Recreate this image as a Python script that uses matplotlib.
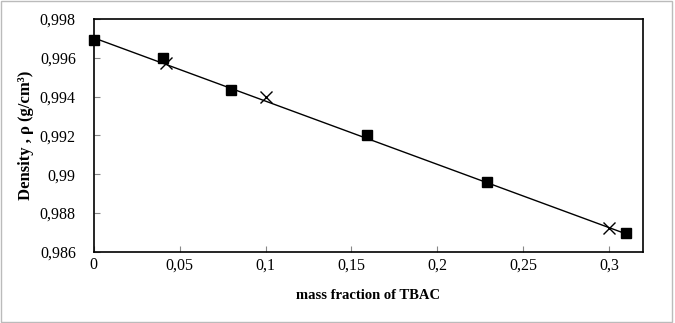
import matplotlib.pyplot as plt
from matplotlib.patches import Rectangle

# measured points (squares)
x_sq = [0.0, 0.04, 0.08, 0.159, 0.229, 0.31]
y_sq = [0.9969, 0.9960, 0.99433, 0.9920, 0.98960, 0.9870]

# literature points (crosses)
x_cr = [0.042, 0.10, 0.30]
y_cr = [0.99573, 0.9940, 0.98723]

# linear fit line
x_fit = [0.0, 0.31]
y_fit = [0.99703, 0.98693]

x_ticks = [0, 0.05, 0.1, 0.15, 0.2, 0.25, 0.3]
x_labels = ['0', '0,05', '0,1', '0,15', '0,2', '0,25', '0,3']
y_ticks = [0.986, 0.988, 0.99, 0.992, 0.994, 0.996, 0.998]
y_labels = ['0,986', '0,988', '0,99', '0,992', '0,994', '0,996', '0,998']

plt.rcParams['font.family'] = ['Liberation Serif', 'DejaVu Serif']

fig = plt.figure(figsize=(6.75, 3.23), dpi=100)
fig.patches.append(Rectangle((0.002, 0.003), 0.994, 0.993, transform=fig.transFigure,
                             fill=False, edgecolor='#bbbbbb', linewidth=1))
ax = fig.add_axes([0.139, 0.22, 0.814, 0.721])

ax.plot(x_fit, y_fit, color='black', linewidth=1)
ax.plot(x_sq, y_sq, linestyle='none', marker='s', markersize=7, color='black',
        clip_on=False, zorder=3)
ax.plot(x_cr, y_cr, linestyle='none', marker='x', markersize=8, color='black',
        markeredgewidth=1, clip_on=False, zorder=3)

ax.set_xlim(0, 0.32)
ax.set_ylim(0.986, 0.998)
ax.set_xticks(x_ticks)
ax.set_xticklabels(x_labels)
ax.set_yticks(y_ticks)
ax.set_yticklabels(y_labels)
ax.tick_params(direction='in', length=4, labelsize=11.5, color='#888888')
ax.tick_params(axis='x', pad=4)
ax.tick_params(axis='y', pad=13)
for s in ax.spines.values():
    s.set_linewidth(1.2)

ax.set_xlabel('mass fraction of TBAC', fontsize=10.5, fontweight='bold', labelpad=11)
ax.set_ylabel('Density , ρ (g/cm³)', fontsize=12, fontweight='bold', labelpad=4)

plt.savefig('out.png', dpi=100)
